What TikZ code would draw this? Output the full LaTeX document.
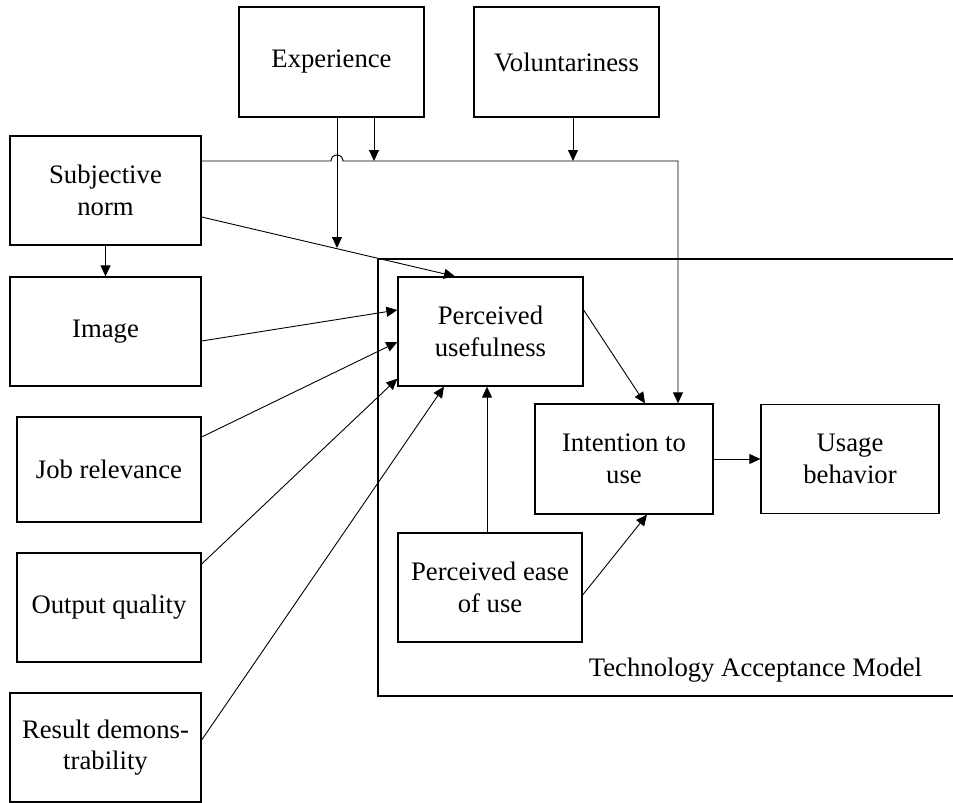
\documentclass[tikz,border=0pt]{standalone}
\usepackage{fontspec}
\setmainfont{Liberation Serif}
\usetikzlibrary{arrows.meta}

\tikzset{
  box/.style={draw=black, line width=1.3pt, rectangle, inner sep=0pt, align=center,
    font=\fontsize{26.7}{31.5}\selectfont},
  link/.style={draw=black, line width=0.9pt, -{Triangle[length=11pt,width=10pt]}},
  plain/.style={draw=black, line width=0.9pt},
  frame/.style={draw=black, line width=1.3pt},
}

\begin{document}
\begin{tikzpicture}[x=1pt,y=-1pt]
  \useasboundingbox (0,0) rectangle (953,803);

  % Technology Acceptance Model frame (open on the right)
  \coordinate (fTR) at (953,259);
  \coordinate (fTL) at (378,259);
  \coordinate (fBL) at (378,696);
  \coordinate (fBR) at (953,696);
  \draw[frame] (fTR) -- (fTL) -- (fBL) -- (fBR);
  \node[anchor=base, font=\fontsize{26.7}{31.5}\selectfont] (tamlabel) at (755.5,676) {Technology Acceptance Model};

  % external factors
  \node[box, minimum width=185pt, minimum height=110pt] (exp) at (331.5,62) {Experience};
  \node[box, minimum width=185pt, minimum height=110pt] (vol) at (566.5,62) {Voluntariness};
  \node[box, minimum width=191pt, minimum height=109pt] (sn)  at (105.5,190.5) {Subjective\\norm};
  \node[box, minimum width=191pt, minimum height=109pt] (img) at (105.5,331.5) {Image};
  \node[box, minimum width=184pt, minimum height=105pt] (job) at (109,469.5) {Job relevance};
  \node[box, minimum width=184pt, minimum height=109pt] (out) at (109,607.5) {Output quality};
  \node[box, minimum width=191pt, minimum height=109pt] (res) at (105.5,747.5) {Result demons-\\trability};

  % model core
  \node[box, minimum width=185pt, minimum height=109pt] (pu)   at (490.5,331.5) {Perceived\\usefulness};
  \node[box, minimum width=184pt, minimum height=109pt] (peou) at (490,587.5) {Perceived ease\\of use};
  \node[box, minimum width=178pt, minimum height=110pt] (int)  at (624,459) {Intention to\\use};
  \node[box, minimum width=178pt, minimum height=109pt] (use)  at (850,459) {Usage\\behavior};

  % moderation points
  \coordinate (mexp) at (337,248);
  \coordinate (mexp2) at (374,161);
  \coordinate (mvol) at (573,161);
  \coordinate (hopL) at (331,161);
  \coordinate (turn) at (678,161);

  % subjective norm -> image
  \draw[link] (sn.south) -- (img.north);

  % subjective norm -> intention (with line hop over the experience line)
  \draw[link] ([yshift=29.5pt]sn.east) -- (hopL)
    arc[start angle=180, end angle=0, radius=6pt] -- (turn) -- ([xshift=54pt]int.north);

  % moderators
  \draw[link] ([xshift=5.5pt]exp.south) -- (mexp);
  \draw[link] ([xshift=42.5pt]exp.south) -- (mexp2);
  \draw[link] ([xshift=6.5pt]vol.south) -- (mvol);

  % determinants of perceived usefulness
  \draw[link] ([yshift=-26.5pt]sn.east) -- ([xshift=-35.5pt]pu.north);
  \draw[link] ([yshift=-9.5pt]img.east) -- ([yshift=21.5pt]pu.west);
  \draw[link] ([yshift=32.5pt]job.east) -- ([yshift=-10.5pt]pu.west);
  \draw[link] ([yshift=43.5pt]out.east) -- ([yshift=8pt]pu.south west);
  \draw[link] ([yshift=7.5pt]res.east) -- ([xshift=-46.5pt]pu.south);

  % TAM relations
  \draw[link] ([xshift=-3pt]peou.north) -- ([xshift=-3.5pt]pu.south);
  \draw[link] ([yshift=21.5pt]pu.east) -- ([xshift=21pt]int.north);
  \draw[link] ([yshift=-7.5pt]peou.east) -- ([xshift=23pt]int.south);
  \draw[link] (int.east) -- (int.east -| use.west);
\end{tikzpicture}
\end{document}
